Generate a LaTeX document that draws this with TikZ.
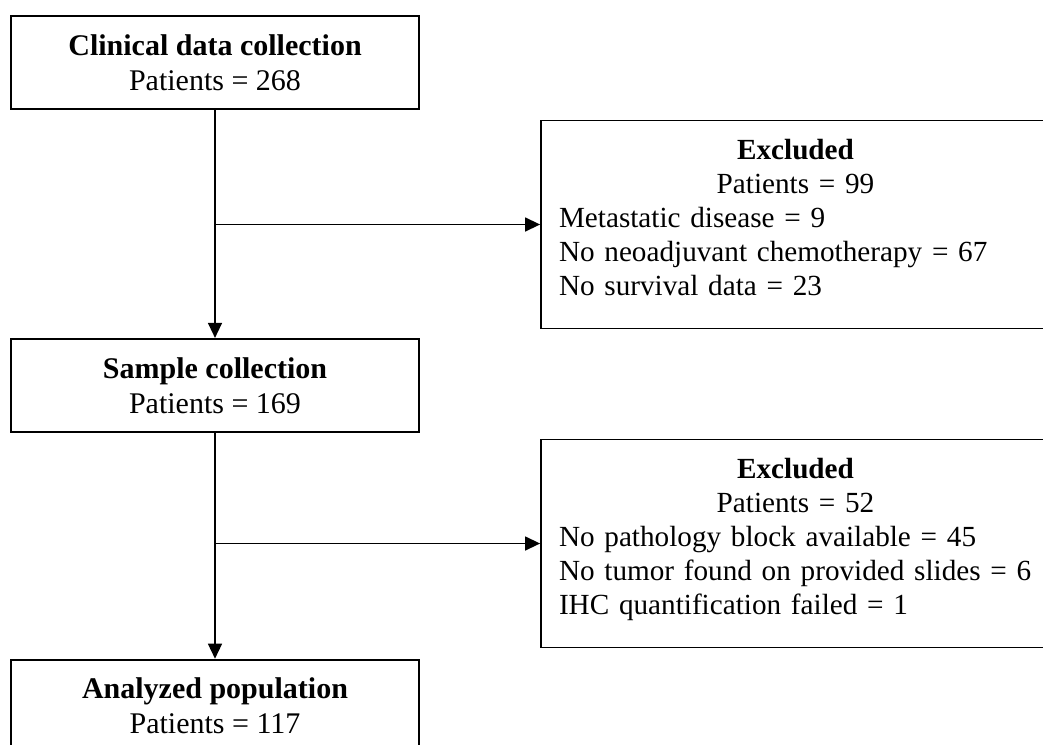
\documentclass[tikz,border=0pt]{standalone}
\usepackage{fontspec}
\setmainfont{Liberation Serif}
\usetikzlibrary{positioning,arrows.meta}

\begin{document}
\begin{tikzpicture}[x = 1pt, y = -1pt, node distance = 228pt,
   stage/.style = {draw, line width = 1.8pt, minimum width = 408pt, minimum height = 93pt,
      inner sep = 0pt, align = center, font = \fontsize{30}{35}\selectfont},
   excl/.style = {draw, line width = 1.8pt, minimum width = 509pt, minimum height = 208pt,
      inner sep = 0pt, text width = 473pt, align = left, font = \fontsize{29.2}{34}\selectfont},
   flow/.style = {line width = 1.4pt, -{Triangle[length = 15pt, width = 14pt]}}]
   \useasboundingbox (0,0) rectangle (1043,744);
   \clip (0,0) rectangle (1043,744);
   \node[stage] (clin) at (215,62.5) {\textbf{Clinical data collection}\\Patients = 268};
   \node[stage, below = of clin] (samp) {\textbf{Sample collection}\\Patients = 169};
   \node[stage, below = 226pt of samp] (anal) {\textbf{Analyzed population}\\Patients = 117};
   \node[excl] (ex1) at (795.5,224.5) {\hfill\textbf{Excluded}\hfill\null\\
      \hfill Patients = 99\hfill\null\\
      \mbox{Metastatic disease = 9}\\
      \mbox{No neoadjuvant chemotherapy = 67}\\
      \mbox{No survival data = 23}\rule[-14pt]{0pt}{0pt}};
   \node[excl] (ex2) at (795.5,543.5) {\hfill\textbf{Excluded}\hfill\null\\
      \hfill Patients = 52\hfill\null\\
      \mbox{No pathology block available = 45}\\
      \mbox{No tumor found on provided slides = 6}\\
      \mbox{IHC quantification failed = 1}\rule[-14pt]{0pt}{0pt}};
   \draw[flow] (clin) -- (samp);
   \draw[flow] (samp) -- (anal);
   \draw[flow] (clin.south |- ex1.west) -- (ex1.west);
   \draw[flow] (samp.south |- ex2.west) -- (ex2.west);
\end{tikzpicture}
\end{document}
